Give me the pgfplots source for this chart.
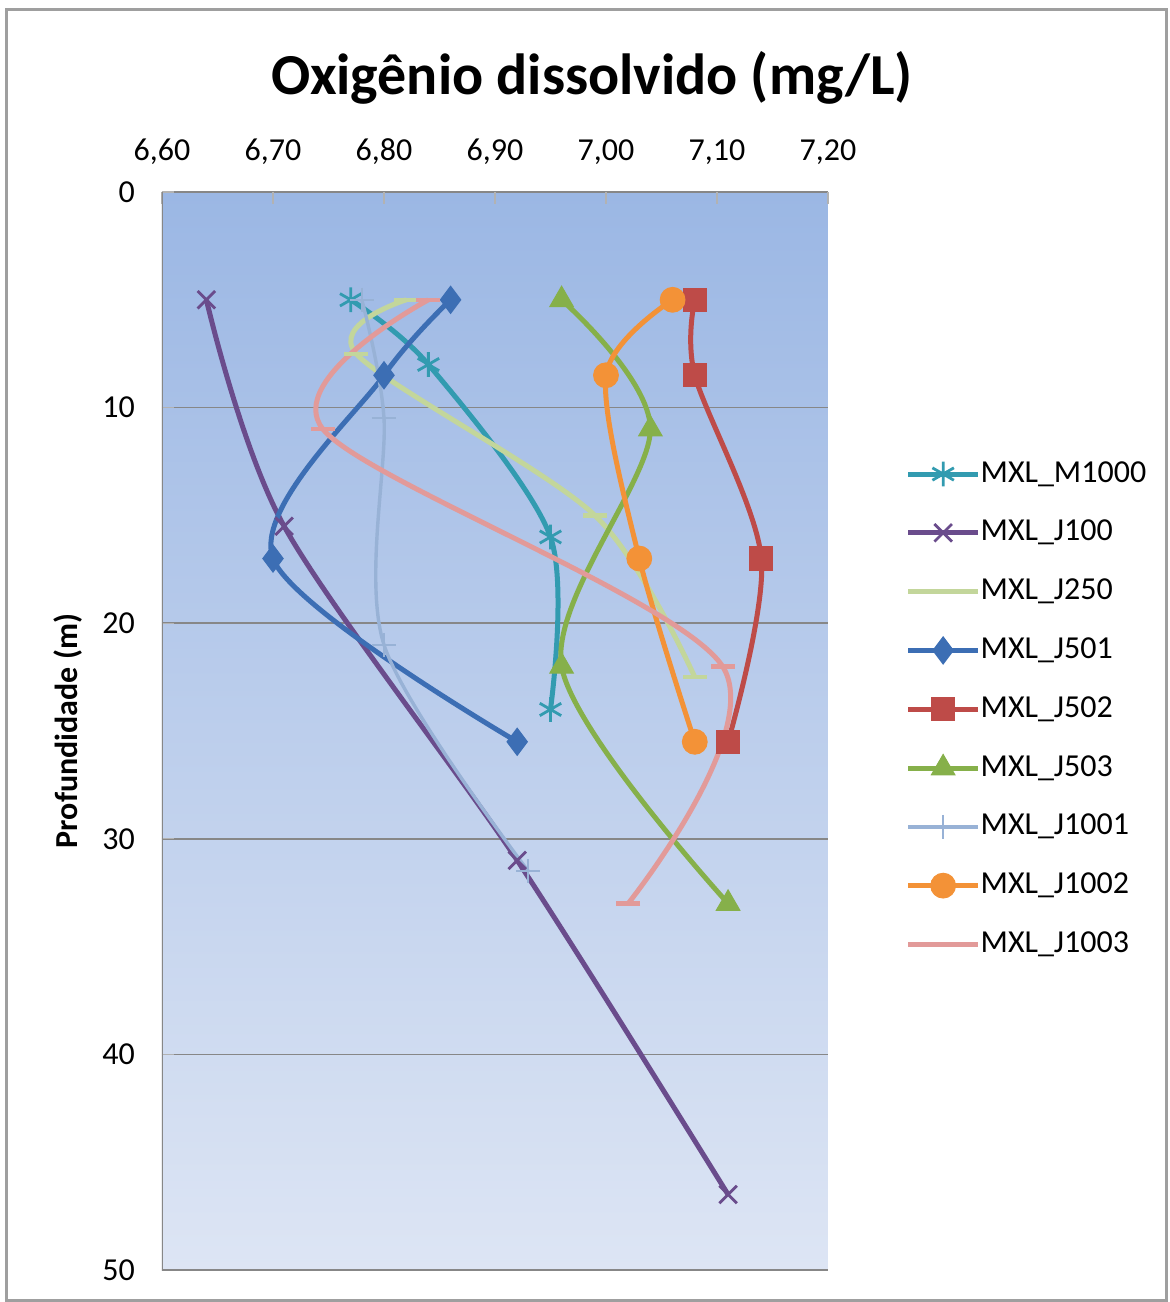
\documentclass[border=0pt]{standalone}
\usepackage{pgfplots}
\pgfplotsset{compat=1.18}
\usepackage{fontspec}
\setmainfont{Carlito}
\definecolor{cM1000}{HTML}{329BB0}
\definecolor{cJ100}{HTML}{6A4C8C}
\definecolor{cJ250}{HTML}{C3D69B}
\definecolor{cJ501}{HTML}{3C6EB4}
\definecolor{cJ502}{HTML}{BE4B48}
\definecolor{cJ503}{HTML}{86B04A}
\definecolor{cJ1001}{HTML}{98B2D6}
\definecolor{cJ1002}{HTML}{F39237}
\definecolor{cJ1003}{HTML}{E29A99}
\definecolor{gridgray}{HTML}{878787}
\definecolor{bgtop}{HTML}{9BB7E4}
\definecolor{bgbot}{HTML}{DDE5F4}
\begin{document}
\begin{tikzpicture}
\useasboundingbox (-81pt,-16pt) rectangle (503.5pt,635pt);
\draw[line width=1.5pt, color=gray!75] (-77.5pt,-15pt) rectangle (502pt,630pt);
\node[font=\fontsize{29}{34}\selectfont\bfseries] at (215pt,596pt) {Oxigênio dissolvido (mg/L)};
\begin{axis}[
  at={(0pt,0pt)}, anchor=south west, scale only axis,
  width=333pt, height=539pt,
  xmin=6.6, xmax=7.2, ymin=0, ymax=50, y dir=reverse,
  xtick={6.6,6.7,6.8,6.9,7.0,7.1,7.2},
  ytick={0,10,20,30,40,50},
  xticklabel pos=right, xtick pos=right, ytick pos=left,
  tick align=inside, major tick length=6pt,
  tick style={color=gray!60, line width=0.6pt},
  xticklabel style={yshift=10pt, /pgf/number format/.cd, fixed, fixed zerofill, precision=2, use comma, assume math mode=true},
  yticklabel style={xshift=-10pt, /pgf/number format/assume math mode=true},
  ticklabel style={font=\fontsize{16}{19}\selectfont},
  axis line style={draw=none},
  ymajorgrids, major grid style={color=gridgray, line width=0.8pt},
  axis background/.style={top color=bgtop, bottom color=bgbot},
  ylabel={Profundidade (m)},
  ylabel style={at={(axis description cs:-0.141,0.5)}, anchor=center, font=\fontsize{16}{19}\selectfont\bfseries},
  legend style={draw=none, fill=none, at={(axis description cs:1.116,0.7536)}, anchor=north west,
    inner xsep=0pt, inner ysep=0pt, row sep=13.4pt,
    nodes={inner sep=0pt, text height=12pt, text depth=4pt, font=\fontsize{16}{19}\selectfont}},
  legend cell align=left,
  legend image code/.code={\draw[mark repeat=2,mark phase=2] plot coordinates {(0pt,0pt)(17.5pt,0pt)(35pt,0pt)};},
  every axis plot/.append style={line width=2.5pt},
]
\addplot[smooth, color=cM1000, mark=asterisk, mark size=6.2pt, mark options={line width=1.4pt}]
  coordinates {(6.77,5)(6.84,8)(6.95,16)(6.95,24)};
\addlegendentry{MXL\_M1000}
\addplot[smooth, color=cJ100, mark=x, mark size=6.2pt, mark options={line width=1.4pt}]
  coordinates {(6.64,5)(6.71,15.5)(6.92,31)(7.11,46.5)};
\addlegendentry{MXL\_J100}
\addplot[smooth, color=cJ250, mark=-, mark size=6pt, mark options={line width=2.2pt}]
  coordinates {(6.82,5)(6.775,7.5)(6.99,15)(7.08,22.5)};
\addlegendentry{MXL\_J250}
\addplot[smooth, color=cJ501, mark=diamond*, mark size=6.8pt, mark options={line width=0.5pt}]
  coordinates {(6.86,5)(6.80,8.5)(6.70,17)(6.92,25.5)};
\addlegendentry{MXL\_J501}
\addplot[smooth, color=cJ502, mark=square*, mark size=5.8pt, mark options={line width=0.5pt}]
  coordinates {(7.08,5)(7.08,8.5)(7.14,17)(7.11,25.5)};
\addlegendentry{MXL\_J502}
\addplot[smooth, color=cJ503, mark=triangle*, mark size=6.8pt, mark options={line width=0.5pt}]
  coordinates {(6.96,5)(7.04,11)(6.96,22)(7.11,33)};
\addlegendentry{MXL\_J503}
\addplot[smooth, color=cJ1001, line width=1.7pt, mark=+, mark size=6pt, mark options={line width=1.1pt}]
  coordinates {(6.78,5)(6.80,10.5)(6.80,21)(6.93,31.5)};
\addlegendentry{MXL\_J1001}
\addplot[smooth, color=cJ1002, mark=*, mark size=6.2pt, mark options={line width=0.5pt}]
  coordinates {(7.06,5)(7.00,8.5)(7.03,17)(7.08,25.5)};
\addlegendentry{MXL\_J1002}
\addplot[smooth, color=cJ1003, mark=-, mark size=6pt, mark options={line width=2.2pt}]
  coordinates {(6.84,5)(6.745,11)(7.105,22)(7.02,33)};
\addlegendentry{MXL\_J1003}
\draw[color=gridgray, line width=0.8pt] (axis cs:6.6,0) -- (axis cs:6.6,50) -- (axis cs:7.2,50);
\end{axis}
\end{tikzpicture}
\end{document}
